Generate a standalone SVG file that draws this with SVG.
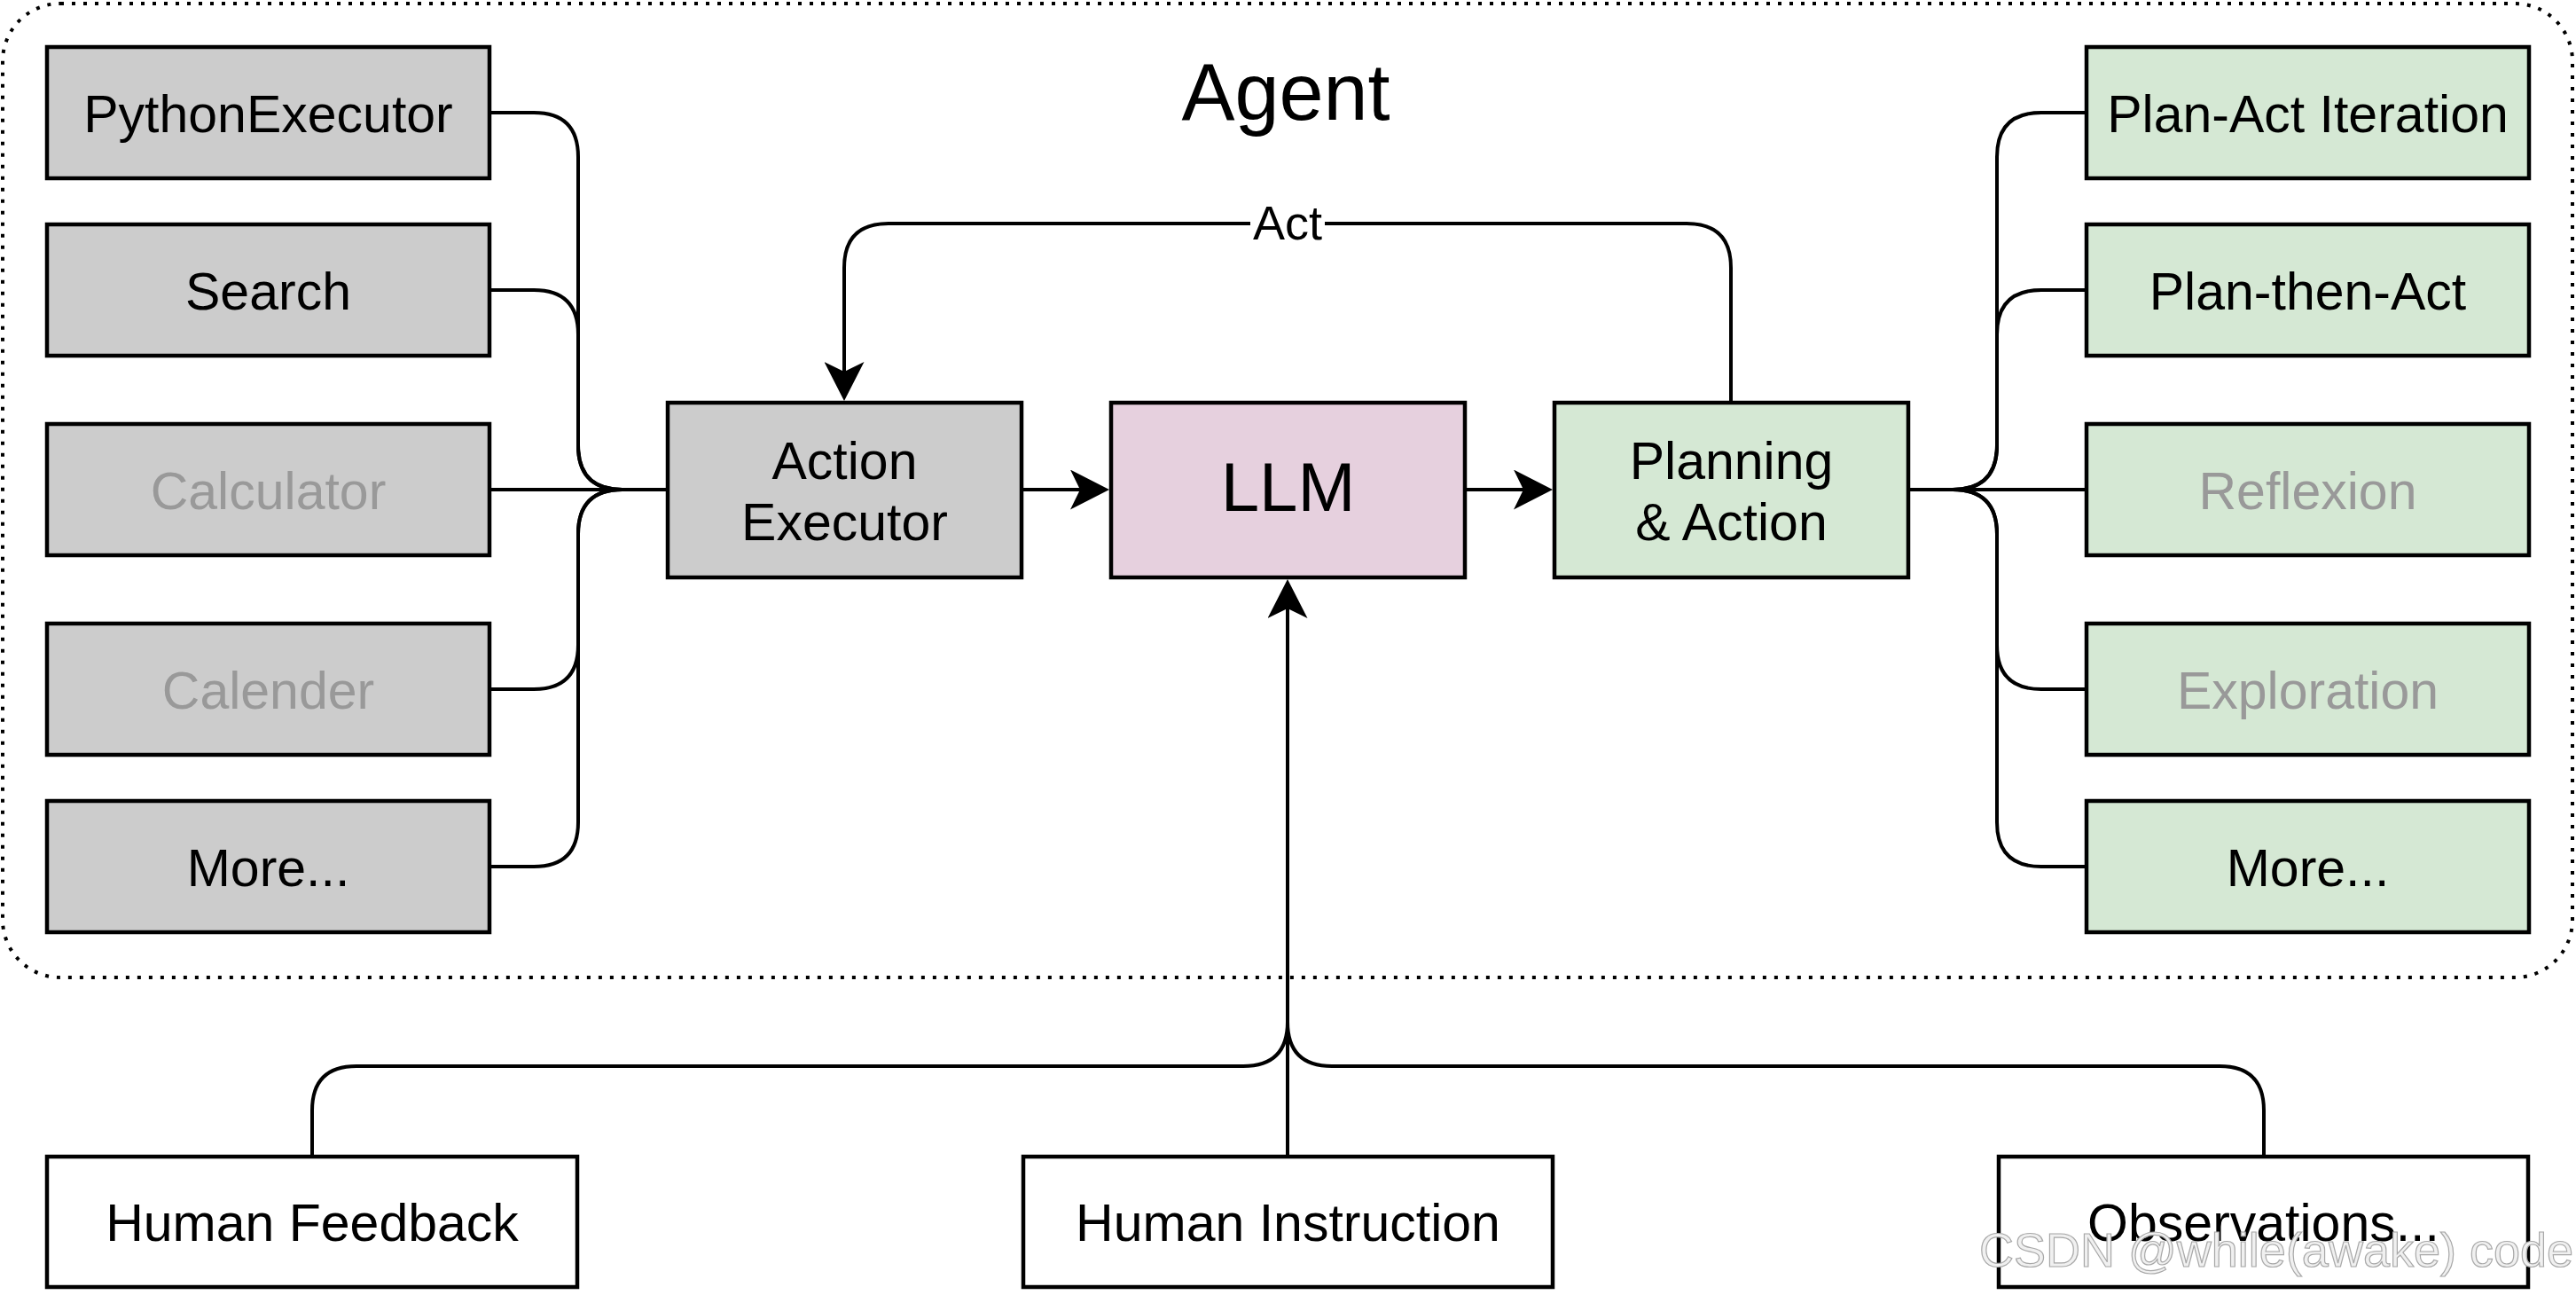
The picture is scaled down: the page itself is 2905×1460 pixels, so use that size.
<svg xmlns="http://www.w3.org/2000/svg" width="2905" height="1460" viewBox="0 0 2905 1460">
<style>
.box{stroke:#000;stroke-width:4.5}
.gray{fill:#cccccc}
.green{fill:#d5e8d4}
.pink{fill:#e6d0de}
.white{fill:#ffffff}
.lbl{font-family:"Liberation Sans",Arial,Helvetica,sans-serif;font-size:59px;fill:#000;text-anchor:middle}
.dim{fill:#999999}
.edge{fill:none;stroke:#000;stroke-width:4}
</style>
<defs>
<marker id="arrow" markerUnits="userSpaceOnUse" viewBox="0 0 44 45" markerWidth="44" markerHeight="45" refX="14" refY="22.5" orient="auto">
<path d="M0,0 L44,22.5 L0,45 L11,22.5 Z" fill="#000"/>
</marker>
</defs>
<rect id="agent-container" x="3" y="4" width="2898" height="1098" rx="65" ry="65" fill="none" stroke="#000" stroke-width="4" stroke-dasharray="4 9"/>
<text x="1450" y="135" font-family="Liberation Sans,Arial,sans-serif" font-size="90" text-anchor="middle">Agent</text>

<g id="connectors">
<path class="edge" d="M553 127 H602 Q652 127 652 177 V502 Q652 552 702 552 H752"/>
<path class="edge" d="M553 327 H602 Q652 327 652 377 V502 Q652 552 702 552 H752"/>
<path class="edge" d="M553 552 H752"/>
<path class="edge" d="M553 777 H602 Q652 777 652 727 V602 Q652 552 702 552 H752"/>
<path class="edge" d="M553 977 H602 Q652 977 652 927 V602 Q652 552 702 552 H752"/>
<path class="edge" d="M2153 552 H2202 Q2252 552 2252 502 V177 Q2252 127 2302 127 H2352"/>
<path class="edge" d="M2153 552 H2202 Q2252 552 2252 502 V377 Q2252 327 2302 327 H2352"/>
<path class="edge" d="M2153 552 H2352"/>
<path class="edge" d="M2153 552 H2202 Q2252 552 2252 602 V727 Q2252 777 2302 777 H2352"/>
<path class="edge" d="M2153 552 H2202 Q2252 552 2252 602 V927 Q2252 977 2302 977 H2352"/>
<path class="edge" d="M1153 552 H1221" marker-end="url(#arrow)"/>
<path class="edge" d="M1653 552 H1721" marker-end="url(#arrow)"/>
<path class="edge" d="M1952 452 V302 Q1952 252 1902 252 H1002 Q952 252 952 302 V422" marker-end="url(#arrow)"/>
<rect x="1410" y="226" width="84" height="52" fill="#fff"/>
<text x="1452" y="270" font-family="Liberation Sans,Arial,sans-serif" font-size="54" text-anchor="middle">Act</text>
<path class="edge" d="M352 1302 V1252 Q352 1202 402 1202 H1402 Q1452 1202 1452 1152 V700"/>
<path class="edge" d="M2553 1302 V1252 Q2553 1202 2503 1202 H1502 Q1452 1202 1452 1152 V700"/>
<path class="edge" d="M1452 1302 V683" marker-end="url(#arrow)"/>
</g>

<g id="python-executor"><rect class="box gray" x="53" y="53" width="499" height="148"/><text class="lbl" x="302.5" y="149">PythonExecutor</text></g>
<g id="search"><rect class="box gray" x="53" y="253" width="499" height="148"/><text class="lbl" x="302.5" y="349">Search</text></g>
<g id="calculator"><rect class="box gray" x="53" y="478" width="499" height="148"/><text class="lbl dim" x="302.5" y="574">Calculator</text></g>
<g id="calender"><rect class="box gray" x="53" y="703" width="499" height="148"/><text class="lbl dim" x="302.5" y="799">Calender</text></g>
<g id="more-tools"><rect class="box gray" x="53" y="903" width="499" height="148"/><text class="lbl" x="302.5" y="999">More...</text></g>

<g id="action-executor"><rect class="box gray" x="753" y="454" width="399" height="197"/><text class="lbl" x="952.5" y="540">Action</text><text class="lbl" x="952.5" y="609">Executor</text></g>
<g id="llm"><rect class="box pink" x="1253" y="454" width="399" height="197"/><text class="lbl" x="1452.5" y="576" font-size="78" style="font-size:78px">LLM</text></g>
<g id="planning-action"><rect class="box green" x="1753" y="454" width="399" height="197"/><text class="lbl" x="1952.5" y="540">Planning</text><text class="lbl" x="1952.5" y="609">&amp; Action</text></g>

<g id="plan-act-iteration"><rect class="box green" x="2353" y="53" width="499" height="148"/><text class="lbl" x="2602.5" y="149">Plan-Act Iteration</text></g>
<g id="plan-then-act"><rect class="box green" x="2353" y="253" width="499" height="148"/><text class="lbl" x="2602.5" y="349">Plan-then-Act</text></g>
<g id="reflexion"><rect class="box green" x="2353" y="478" width="499" height="148"/><text class="lbl dim" x="2602.5" y="574">Reflexion</text></g>
<g id="exploration"><rect class="box green" x="2353" y="703" width="499" height="148"/><text class="lbl dim" x="2602.5" y="799">Exploration</text></g>
<g id="more-planning"><rect class="box green" x="2353" y="903" width="499" height="148"/><text class="lbl" x="2602.5" y="999">More...</text></g>

<g id="human-feedback"><rect class="box white" x="53" y="1304" width="598" height="147"/><text class="lbl" x="352" y="1399">Human Feedback</text></g>
<g id="human-instruction"><rect class="box white" x="1154" y="1304" width="597" height="147"/><text class="lbl" x="1452.5" y="1399">Human Instruction</text></g>
<g id="observations"><rect class="box white" x="2254" y="1304" width="597" height="147"/><text class="lbl" x="2552.5" y="1399">Observations...</text></g>

<text x="2232" y="1428" font-family="Liberation Sans,Arial,sans-serif" font-size="54" fill="#f0f0f0" stroke="#a8a8a8" stroke-width="1.2">CSDN @while(awake) code</text>
</svg>
